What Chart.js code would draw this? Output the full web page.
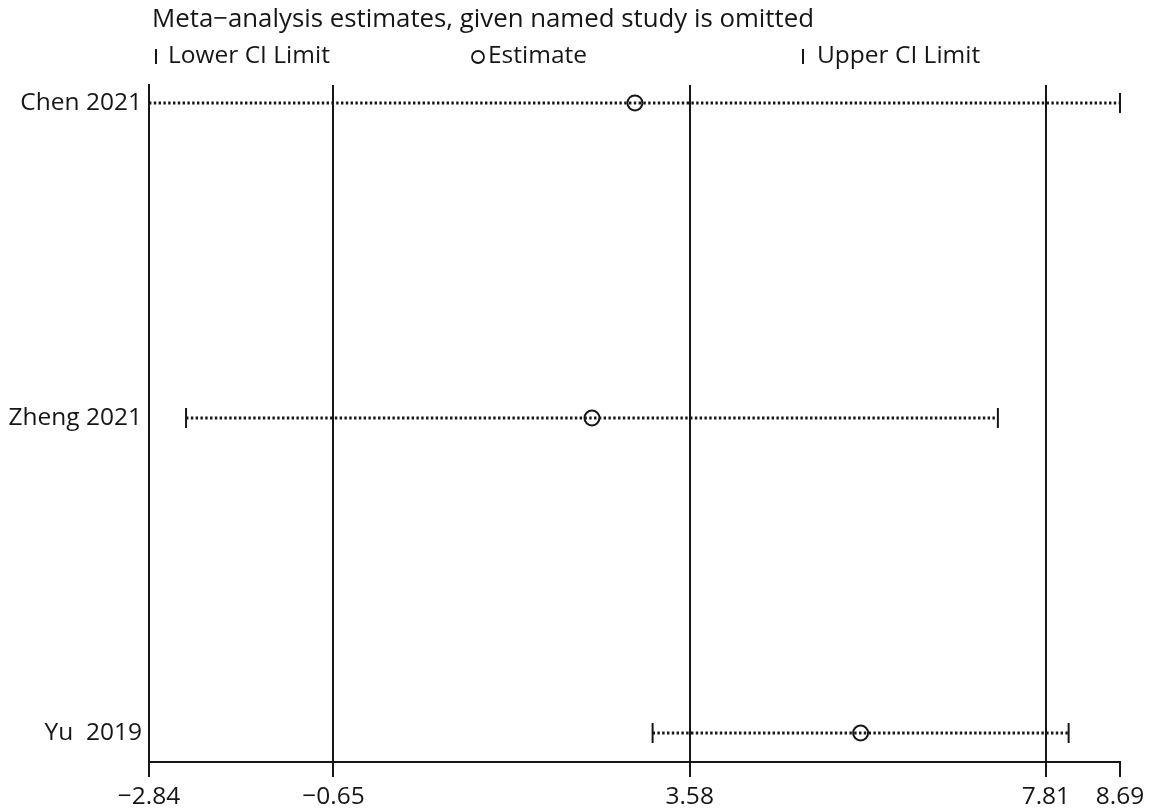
<!DOCTYPE html>
<html>
<head>
<meta charset="utf-8">
<script src="https://cdn.jsdelivr.net/npm/chart.js@4/dist/chart.umd.min.js"></script>
<style>
body{margin:0;background:#fff}
#wrap{width:1158px;height:809px}
</style>
</head>
<body>
<div id="wrap"><canvas id="chart" width="1158" height="809"></canvas></div>
<script>
const studies=["Chen 2021","Zheng 2021","Yu  2019"]
const lower=[-2.84,-2.40,3.14]
const estimate=[2.93,2.42,5.61]
const upper=[8.69,7.24,8.08]
const xTicks=[-2.84,-0.65,3.58,7.81,8.69]
const refLines=[-0.65,3.58,7.81]
const title="Meta\u2212analysis estimates, given named study is omitted"
const legendItems=["Lower CI Limit","Estimate","Upper CI Limit"]

const ink="#161616"
const font="'Open Sans', sans-serif"

function fmt(v){
return v.toFixed(2).replace("-","\u2212")
}

let datasets=[]

studies.forEach((s,i)=>{
datasets.push({
label:s,
data:[{x:lower[i],y:i},{x:upper[i],y:i}],
showLine:true,
borderColor:ink,
borderWidth:3,
borderDash:[2.4,2.4],
pointRadius:0,
clip:false
})
})

let caps=[]
studies.forEach((s,i)=>{
caps.push({x:lower[i],y:i})
caps.push({x:upper[i],y:i})
})

datasets.push({
label:"Lower/Upper CI Limit",
data:caps,
pointStyle:"line",
rotation:90,
pointRadius:10,
pointBorderWidth:2,
pointBorderColor:ink,
clip:false
})

datasets.push({
label:"Estimate",
data:estimate.map((v,i)=>({x:v,y:i})),
pointStyle:"circle",
pointRadius:7.5,
pointBorderWidth:2,
pointBorderColor:ink,
pointBackgroundColor:"rgba(0,0,0,0)",
clip:false
})

const header={
id:"header",
afterDraw(chart){
let ctx=chart.ctx
ctx.save()
ctx.fillStyle=ink
ctx.strokeStyle=ink
ctx.textBaseline="middle"
ctx.font="25.8px "+font
ctx.fillText(title,152,20)

// legend row
ctx.font="24.5px "+font
let ly=56
ctx.lineWidth=2
ctx.beginPath()
ctx.moveTo(156,ly-7)
ctx.lineTo(156,ly+8)
ctx.stroke()
ctx.fillText(legendItems[0],168,ly)

ctx.lineWidth=1.8
ctx.beginPath()
ctx.arc(478,ly+1,6,0,Math.PI*2)
ctx.stroke()
ctx.fillText(legendItems[1],488,ly)

ctx.lineWidth=2
ctx.beginPath()
ctx.moveTo(803,ly-7)
ctx.lineTo(803,ly+8)
ctx.stroke()
ctx.fillText(legendItems[2],817,ly)
ctx.restore()
}
}

new Chart(document.getElementById("chart"),{
type:"scatter",
data:{datasets:datasets},
plugins:[header],
options:{
responsive:false,
animation:false,
layout:{padding:{top:85,right:38,left:0,bottom:0}},
plugins:{legend:{display:false},tooltip:{enabled:false}},
scales:{
x:{
type:"linear",
min:-2.84,
max:8.69,
afterBuildTicks:(scale)=>{scale.ticks=xTicks.map(v=>({value:v}))},
afterFit:(scale)=>{scale.height=47},
ticks:{
color:ink,
font:{family:font,size:24.5},
padding:5,
maxRotation:0,
autoSkip:false,
callback:(v)=>fmt(v)
},
grid:{
color:(c)=>c.tick&&refLines.includes(c.tick.value)?ink:"rgba(0,0,0,0)",
lineWidth:2,
tickColor:ink,
tickLength:15
},
border:{display:true,color:ink,width:2}
},
y:{
type:"linear",
reverse:true,
min:-0.057,
max:2.092,
afterBuildTicks:(scale)=>{scale.ticks=studies.map((s,i)=>({value:i}))},
afterFit:(scale)=>{scale.width=149},
ticks:{
color:ink,
font:{family:font,size:24.5},
padding:7,
autoSkip:false,
callback:(v)=>studies[v]
},
grid:{display:false,drawTicks:false},
border:{display:true,color:ink,width:2}
}
}
}
})
</script>
</body>
</html>
